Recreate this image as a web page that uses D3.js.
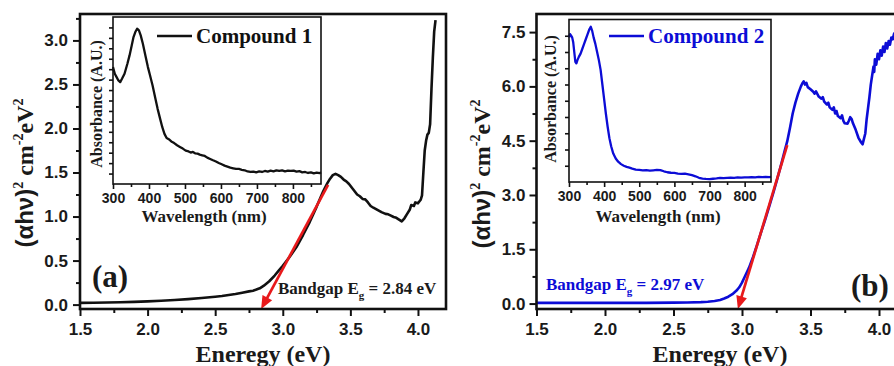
<!DOCTYPE html>
<html>
<head>
<meta charset="utf-8">
<script src="https://cdn.jsdelivr.net/npm/d3@7"></script>
<style>
  html, body { margin: 0; padding: 0; background: #fff; }
  svg { display: block; }
</style>
</head>
<body>
<svg id="chart" width="894" height="366"></svg>
<script>
// ---------- Compound 1: Tauc plot (main) ----------
const compound1Energy = [
  1.50, 1.60, 1.70, 1.80, 1.90, 2.00, 2.10, 2.20, 2.30, 2.40, 2.50, 2.55, 2.60, 2.65, 2.70,
  2.75, 2.78, 2.80, 2.83, 2.86, 2.90, 2.94, 2.97, 3.00, 3.05, 3.10, 3.15, 3.20, 3.25, 3.28,
  3.30, 3.33, 3.35, 3.37, 3.39, 3.41, 3.43, 3.45, 3.47, 3.49, 3.51, 3.53, 3.55, 3.57, 3.59,
  3.61, 3.63, 3.65, 3.67, 3.70, 3.73, 3.76, 3.78, 3.80, 3.82, 3.84, 3.86, 3.88, 3.90, 3.92,
  3.94, 3.95, 3.97, 3.98, 4.00, 4.02, 4.03, 4.04, 4.05, 4.06, 4.07, 4.08, 4.09, 4.10, 4.11,
  4.12, 4.13
];
const compound1Tauc = [
  0.020, 0.021, 0.024, 0.027, 0.031, 0.037, 0.043, 0.052, 0.062, 0.075, 0.090, 0.097, 0.108, 0.120, 0.135,
  0.150, 0.158, 0.168, 0.185, 0.215, 0.265, 0.330, 0.385, 0.440, 0.540, 0.650, 0.790, 0.940, 1.110, 1.220,
  1.290, 1.380, 1.430, 1.470, 1.485, 1.470, 1.450, 1.420, 1.400, 1.370, 1.330, 1.290, 1.250, 1.230, 1.200,
  1.195, 1.160, 1.120, 1.100, 1.075, 1.050, 1.030, 1.025, 1.010, 0.995, 0.985, 0.965, 0.945, 0.980, 1.030,
  1.080, 1.130, 1.120, 1.160, 1.150, 1.190, 1.240, 1.500, 1.750, 1.860, 1.930, 1.950, 2.050, 2.450, 2.800,
  3.100, 3.230
];

// ---------- Compound 1: absorbance spectrum (inset) ----------
const compound1Wavelength = [
  300, 305, 310, 315, 320, 325, 332, 340, 346, 352, 357, 362, 367, 372, 377, 383, 390, 397, 403, 410,
  417, 424, 431, 437, 443, 449, 455, 462, 470, 478, 486, 494, 502, 510, 516, 522, 528, 535, 541, 548,
  555, 562, 570, 578, 586, 594, 602, 610, 618, 626, 634, 642, 650, 658, 666, 674, 682, 690, 698, 706,
  714, 722, 730, 738, 746, 754, 762, 770, 778, 786, 794, 802, 810, 818, 826, 834, 842, 850, 858, 866,
  874, 878
];
const compound1Absorbance = [
  0.700, 0.660, 0.640, 0.620, 0.610, 0.630, 0.660, 0.720, 0.770, 0.830, 0.880, 0.910, 0.930, 0.920, 0.890, 0.840, 0.770, 0.700, 0.650, 0.590,
  0.520, 0.450, 0.390, 0.340, 0.300, 0.275, 0.268, 0.255, 0.245, 0.232, 0.222, 0.212, 0.200, 0.195, 0.188, 0.192, 0.184, 0.182, 0.176, 0.172,
  0.168, 0.158, 0.150, 0.142, 0.135, 0.126, 0.118, 0.110, 0.104, 0.098, 0.094, 0.090, 0.090, 0.085, 0.082, 0.075, 0.072, 0.074, 0.070, 0.075,
  0.072, 0.078, 0.074, 0.080, 0.076, 0.082, 0.078, 0.082, 0.076, 0.080, 0.078, 0.080, 0.074, 0.077, 0.070, 0.072, 0.066, 0.070, 0.064, 0.068,
  0.065, 0.070
];

// ---------- Compound 2: Tauc plot (main) ----------
const compound2Energy = [
  1.50, 1.70, 1.90, 2.10, 2.30, 2.50, 2.60, 2.70, 2.75, 2.80, 2.84, 2.87, 2.90, 2.93, 2.96,
  2.98, 3.00, 3.02, 3.05, 3.08, 3.11, 3.14, 3.17, 3.20, 3.23, 3.26, 3.29, 3.31, 3.33, 3.35,
  3.37, 3.39, 3.41, 3.43, 3.44, 3.45, 3.46, 3.47, 3.48, 3.50, 3.52, 3.53, 3.54, 3.56, 3.58,
  3.59, 3.60, 3.62, 3.63, 3.64, 3.66, 3.67, 3.68, 3.69, 3.70, 3.72, 3.73, 3.74, 3.75, 3.77,
  3.78, 3.79, 3.80, 3.81, 3.83, 3.85, 3.87, 3.88, 3.89, 3.90, 3.91, 3.92, 3.93, 3.94, 3.95,
  3.96, 3.965, 3.97, 3.98, 3.99, 4.00, 4.01, 4.02, 4.03, 4.04, 4.05, 4.06, 4.07, 4.08, 4.09,
  4.10, 4.11, 4.12, 4.14, 4.16
];
const compound2Tauc = [
  0.02, 0.02, 0.02, 0.02, 0.02, 0.025, 0.03, 0.04, 0.05, 0.07, 0.10, 0.14, 0.19, 0.26, 0.36,
  0.45, 0.58, 0.74, 0.98, 1.28, 1.62, 1.98, 2.33, 2.70, 3.08, 3.48, 3.90, 4.20, 4.48, 4.85,
  5.25, 5.55, 5.80, 6.00, 6.08, 6.14, 6.05, 6.10, 5.98, 5.92, 5.85, 5.80, 5.86, 5.72, 5.66,
  5.70, 5.58, 5.50, 5.55, 5.42, 5.35, 5.42, 5.25, 5.32, 5.18, 5.12, 5.20, 5.05, 4.98, 4.97,
  5.05, 5.15, 5.10, 4.98, 4.80, 4.58, 4.45, 4.40, 4.55, 4.70, 5.10, 5.40, 5.70, 6.05, 6.30,
  6.55, 6.40, 6.75, 6.60, 6.90, 6.75, 7.00, 6.85, 7.10, 6.95, 7.20, 7.05, 7.25, 7.15, 7.35,
  7.30, 7.45, 7.50, 7.60, 7.65
];

// ---------- Compound 2: absorbance spectrum (inset) ----------
const compound2Wavelength = [
  300, 303, 306, 309, 312, 315, 318, 321, 324, 328, 333, 338, 343, 348, 353, 358, 362, 366, 370, 375,
  380, 385, 390, 395, 400, 405, 410, 415, 420, 426, 433, 440, 448, 456, 464, 472, 480, 490, 500, 510,
  520, 530, 540, 550, 560, 570, 580, 590, 600, 610, 620, 630, 640, 650, 660, 670, 680, 690, 700, 710,
  720, 730, 740, 750, 760, 770, 780, 790, 800, 810, 820, 830, 840, 850, 860, 870, 875
];
const compound2Absorbance = [
  0.890, 0.910, 0.900, 0.890, 0.860, 0.800, 0.740, 0.730, 0.750, 0.770, 0.790, 0.820, 0.850, 0.880, 0.910, 0.940, 0.955, 0.930, 0.890, 0.850,
  0.800, 0.750, 0.690, 0.600, 0.510, 0.420, 0.340, 0.270, 0.220, 0.175, 0.145, 0.125, 0.110, 0.100, 0.093, 0.088, 0.082, 0.076, 0.074, 0.072,
  0.073, 0.070, 0.072, 0.074, 0.073, 0.066, 0.060, 0.057, 0.056, 0.052, 0.050, 0.051, 0.047, 0.042, 0.035, 0.026, 0.021, 0.019, 0.018, 0.020,
  0.022, 0.025, 0.024, 0.026, 0.027, 0.026, 0.028, 0.027, 0.029, 0.028, 0.030, 0.029, 0.031, 0.030, 0.031, 0.030, 0.031
];

// ---------- Axis ticks ----------
const energyTicks = [1.5, 2.0, 2.5, 3.0, 3.5, 4.0];
const energyMinorTicks = [1.75, 2.25, 2.75, 3.25, 3.75];
const taucTicks1 = [0.0, 0.5, 1.0, 1.5, 2.0, 2.5, 3.0];
const taucMinorTicks1 = [0.25, 0.75, 1.25, 1.75, 2.25, 2.75, 3.25];
const taucTicks2 = [0.0, 1.5, 3.0, 4.5, 6.0, 7.5];
const taucMinorTicks2 = [0.75, 2.25, 3.75, 5.25, 6.75];
const wavelengthTicks = [300, 400, 500, 600, 700, 800];
const wavelengthMinorTicks = [350, 450, 550, 650, 750, 850];
const absorbanceTicks1 = [0.0625, 0.125, 0.1875, 0.25, 0.3125, 0.375, 0.4375, 0.5, 0.5625, 0.625, 0.6875, 0.75, 0.8125, 0.875, 0.9375];
const absorbanceTicks2 = [0.1, 0.2, 0.3, 0.4, 0.5, 0.6, 0.7, 0.8, 0.9];

// ---------- Band-gap extrapolation (linear fit drawn as arrow) ----------
const bandgapValues = [2.84, 2.97];
const fitUpperEnergy = [3.335, 3.33];
const fitUpperTauc = [1.36, 4.38];

const SANS = "'Liberation Sans', Arial, Helvetica, sans-serif";
const SERIF = "'Liberation Serif', 'Times New Roman', Times, serif";
const RED = "#e8191b";

const svg = d3.select("#chart");
svg.append("rect").attr("width", 894).attr("height", 366).attr("fill", "#fff");

const zip = (xs, ys) => xs.map((v, i) => [v, ys[i]]);

function styleAxis(sel, fontSize, family, color) {
  sel.select(".domain").remove();
  sel.selectAll(".tick line").attr("stroke", "#111").attr("stroke-width", 2);
  sel.selectAll(".tick text")
    .attr("font-family", family)
    .attr("font-weight", "bold")
    .attr("font-size", fontSize)
    .attr("fill", color);
}

function drawPanel(p) {
  const g = svg.append("g");
  const x = d3.scaleLinear().domain(p.xDomain).range([p.left, p.right]);
  const y = d3.scaleLinear().domain(p.yDomain).range([p.bottom, p.top]);

  // bottom axis: minor then major ticks
  g.append("g").attr("transform", `translate(0,${p.bottom})`)
    .call(d3.axisBottom(x).tickValues(energyMinorTicks).tickSize(4).tickFormat(""))
    .call(s => styleAxis(s, 17, SANS, "#1a1a1a"));
  g.append("g").attr("transform", `translate(0,${p.bottom})`)
    .call(d3.axisBottom(x).tickValues(energyTicks).tickSize(7).tickPadding(7).tickFormat(d3.format(".1f")))
    .call(s => styleAxis(s, 17, SANS, "#1a1a1a"));

  // left axis
  g.append("g").attr("transform", `translate(${p.left},0)`)
    .call(d3.axisLeft(y).tickValues(p.yMinor).tickSize(4).tickFormat(""))
    .call(s => styleAxis(s, 17, SANS, "#1a1a1a"));
  g.append("g").attr("transform", `translate(${p.left},0)`)
    .call(d3.axisLeft(y).tickValues(p.yTicks).tickSize(7).tickPadding(p.yPad).tickFormat(d3.format(".1f")))
    .call(s => styleAxis(s, 17, SANS, "#1a1a1a"));

  // data curve
  g.append("path")
    .datum(zip(p.energy, p.tauc))
    .attr("fill", "none")
    .attr("stroke", p.color)
    .attr("stroke-width", 2.6)
    .attr("stroke-linejoin", "round")
    .attr("d", d3.line().x(d => x(d[0])).y(d => y(d[1])));

  // band-gap extrapolation arrow
  const p0 = [x(p.fitE), y(p.fitT)];
  const p1 = [x(p.bandgap), y(p.yDomain[0])];
  const dx = p1[0] - p0[0], dy = p1[1] - p0[1];
  const len = Math.hypot(dx, dy);
  const ux = dx / len, uy = dy / len;
  const headLen = 13, headHalf = 5.5;
  const base = [p1[0] - ux * headLen, p1[1] - uy * headLen];
  g.append("line")
    .attr("x1", p0[0]).attr("y1", p0[1])
    .attr("x2", base[0] + ux * 2).attr("y2", base[1] + uy * 2)
    .attr("stroke", RED).attr("stroke-width", 2.7);
  g.append("path")
    .attr("d", `M${p1[0]},${p1[1]} L${base[0] - uy * headHalf},${base[1] + ux * headHalf} L${base[0] + uy * headHalf},${base[1] - ux * headHalf} Z`)
    .attr("fill", RED);

  // frame
  g.append("rect")
    .attr("x", p.left).attr("y", p.top)
    .attr("width", p.frameRight - p.left).attr("height", p.bottom - p.top)
    .attr("fill", "none").attr("stroke", "#111").attr("stroke-width", 2.6);

  // axis titles
  g.append("text")
    .attr("x", p.xTitleX).attr("y", 362)
    .attr("text-anchor", "middle")
    .attr("font-family", SERIF).attr("font-weight", "bold").attr("font-size", 24)
    .attr("fill", "#1a1a1a")
    .text("Eneregy (eV)");

  const yt = g.append("text")
    .attr("transform", `translate(${p.yTitleX},${p.yTitleY}) rotate(-90)`)
    .attr("text-anchor", "middle")
    .attr("font-family", SERIF).attr("font-weight", "bold").attr("font-size", 24)
    .attr("fill", "#1a1a1a");
  yt.append("tspan").attr("font-family", SANS).text("(\u03B1h\u03BD)");
  yt.append("tspan").attr("dy", -10).attr("font-size", 14).text("2");
  yt.append("tspan").attr("dy", 10).text(" cm");
  yt.append("tspan").attr("dy", -10).attr("font-size", 14).text("-2");
  yt.append("tspan").attr("dy", 10).text("eV");
  yt.append("tspan").attr("dy", -10).attr("font-size", 14).text("2");

  // panel letter
  g.append("text")
    .attr("x", p.letterX).attr("y", p.letterY)
    .attr("font-family", SERIF).attr("font-weight", "bold").attr("font-size", 31)
    .attr("fill", "#1a1a1a")
    .text(p.letter);

  // band-gap label
  const bl = g.append("text")
    .attr("x", p.gapX).attr("y", p.gapY)
    .attr("font-family", SERIF).attr("font-weight", "bold").attr("font-size", 17)
    .attr("fill", p.gapColor);
  bl.append("tspan").text("Bandgap E");
  bl.append("tspan").attr("dy", 5).attr("font-size", 11).text("g");
  bl.append("tspan").attr("dy", -5).text(` = ${p.bandgap.toFixed(2)} eV`);

  // ---------- inset ----------
  const ix = d3.scaleLinear().domain(p.inset.xDomain).range([p.inset.left, p.inset.right]);
  const iy = d3.scaleLinear().domain([0, 1]).range([p.inset.bottom, p.inset.top]);
  const ig = g.append("g");
  ig.append("rect")
    .attr("x", p.inset.left).attr("y", p.inset.top)
    .attr("width", p.inset.right - p.inset.left).attr("height", p.inset.bottom - p.inset.top)
    .attr("fill", "#fff");

  ig.append("g").attr("transform", `translate(0,${p.inset.bottom})`)
    .call(d3.axisBottom(ix).tickValues(wavelengthMinorTicks.filter(v => v <= p.inset.xDomain[1])).tickSize(3).tickFormat(""))
    .call(s => styleAxis(s, 14, SANS, "#1a1a1a"));
  ig.append("g").attr("transform", `translate(0,${p.inset.bottom})`)
    .call(d3.axisBottom(ix).tickValues(wavelengthTicks).tickSize(5).tickPadding(4).tickFormat(d3.format("d")))
    .call(s => styleAxis(s, 14, SANS, "#1a1a1a"));
  ig.append("g").attr("transform", `translate(${p.inset.left},0)`)
    .call(d3.axisLeft(iy).tickValues(p.inset.yTicks).tickSize(4).tickFormat(""))
    .call(s => styleAxis(s, 14, SANS, "#1a1a1a"));
  ig.selectAll(".tick line").attr("stroke-width", 1.6);

  ig.append("path")
    .datum(zip(p.inset.wavelength, p.inset.absorbance))
    .attr("fill", "none")
    .attr("stroke", p.color)
    .attr("stroke-width", 2.3)
    .attr("stroke-linejoin", "round")
    .attr("d", d3.line().x(d => ix(d[0])).y(d => iy(d[1])));

  ig.append("rect")
    .attr("x", p.inset.left).attr("y", p.inset.top)
    .attr("width", p.inset.right - p.inset.left).attr("height", p.inset.bottom - p.inset.top)
    .attr("fill", "none").attr("stroke", "#111").attr("stroke-width", 1.6);

  ig.append("text")
    .attr("x", p.inset.xTitleX).attr("y", 222)
    .attr("text-anchor", "middle")
    .attr("font-family", SERIF).attr("font-weight", "bold").attr("font-size", 17)
    .attr("fill", "#1a1a1a")
    .text("Wavelength (nm)");
  ig.append("text")
    .attr("transform", `translate(${p.inset.yTitleX},${p.inset.yTitleY}) rotate(-90)`)
    .attr("text-anchor", "middle")
    .attr("font-family", SERIF).attr("font-weight", "bold").attr("font-size", 16)
    .attr("fill", "#1a1a1a")
    .text("Absorbance (A.U.)");

  // legend
  ig.append("line")
    .attr("x1", p.inset.legendX).attr("x2", p.inset.legendX + 35)
    .attr("y1", 36).attr("y2", 36)
    .attr("stroke", p.color).attr("stroke-width", 2.3);
  ig.append("text")
    .attr("x", p.inset.legendX + 39).attr("y", 42.5)
    .attr("font-family", SERIF).attr("font-weight", "bold").attr("font-size", 21)
    .attr("fill", p.color)
    .text(p.legend);
}

drawPanel({
  left: 80, right: 445, frameRight: 446, top: 14, bottom: 309,
  xDomain: [1.5, 4.2], yDomain: [-0.05, 3.3],
  yTicks: taucTicks1, yMinor: taucMinorTicks1, yPad: 5,
  energy: compound1Energy, tauc: compound1Tauc, color: "#111",
  bandgap: bandgapValues[0], fitE: fitUpperEnergy[0], fitT: fitUpperTauc[0],
  xTitleX: 263, yTitleX: 33, yTitleY: 173,
  letter: "(a)", letterX: 92, letterY: 287,
  gapX: 278, gapY: 294, gapColor: "#1a1a1a",
  legend: "Compound 1",
  inset: {
    left: 113, right: 321, top: 17, bottom: 184, xDomain: [300, 878],
    yTicks: absorbanceTicks1,
    wavelength: compound1Wavelength, absorbance: compound1Absorbance,
    xTitleX: 204, yTitleX: 102, yTitleY: 104, legendX: 157
  }
});

drawPanel({
  left: 536.5, right: 906.4, frameRight: 906.4, top: 14, bottom: 309,
  xDomain: [1.5, 4.2], yDomain: [-0.15, 8.0],
  yTicks: taucTicks2, yMinor: taucMinorTicks2, yPad: 4,
  energy: compound2Energy, tauc: compound2Tauc, color: "#0c0cd6",
  bandgap: bandgapValues[1], fitE: fitUpperEnergy[1], fitT: fitUpperTauc[1],
  xTitleX: 720, yTitleX: 490, yTitleY: 174,
  letter: "(b)", letterX: 851, letterY: 296,
  gapX: 546, gapY: 290, gapColor: "#0c0cd6",
  legend: "Compound 2",
  inset: {
    left: 569, right: 771, top: 19.5, bottom: 182, xDomain: [300, 875],
    yTicks: absorbanceTicks2,
    wavelength: compound2Wavelength, absorbance: compound2Absorbance,
    xTitleX: 658, yTitleX: 556, yTitleY: 99, legendX: 609
  }
});
</script>
</body>
</html>
